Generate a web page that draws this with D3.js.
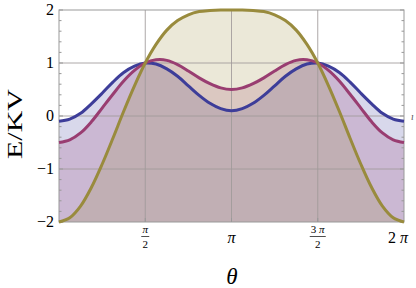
<!DOCTYPE html>
<html>
<head>
<meta charset="utf-8">
<script src="https://cdn.jsdelivr.net/npm/d3@7"></script>
<style>
  html, body { margin: 0; padding: 0; background: #fff; }
  svg { display: block; }
  text { font-family: "Liberation Serif", "DejaVu Serif", serif; }
</style>
</head>
<body>
<div id="chart"></div>
<script>
// theta samples, in units of pi (step pi/16)
const thetaPi = [0, 0.0625, 0.125, 0.1875, 0.25, 0.3125, 0.375, 0.4375, 0.5, 0.5625, 0.625, 0.6875, 0.75, 0.8125, 0.875, 0.9375, 1,
                 1.0625, 1.125, 1.1875, 1.25, 1.3125, 1.375, 1.4375, 1.5, 1.5625, 1.625, 1.6875, 1.75, 1.8125, 1.875, 1.9375, 2];

const blueE = [-0.10, -0.06, 0.05, 0.23, 0.43, 0.64, 0.82, 0.94, 1.00, 0.98, 0.89, 0.75, 0.57, 0.39, 0.24, 0.14, 0.10,
               0.14, 0.24, 0.39, 0.57, 0.75, 0.89, 0.98, 1.00, 0.94, 0.82, 0.64, 0.43, 0.23, 0.05, -0.06, -0.10];
const purpleE = [-0.50, -0.45, -0.32, -0.11, 0.15, 0.41, 0.66, 0.86, 1.00, 1.06, 1.05, 0.97, 0.85, 0.72, 0.61, 0.53, 0.50,
                 0.53, 0.61, 0.72, 0.85, 0.97, 1.05, 1.06, 1.00, 0.86, 0.66, 0.41, 0.15, -0.11, -0.32, -0.45, -0.50];
const goldE = [-2.00, -1.92, -1.70, -1.35, -0.91, -0.42, 0.09, 0.57, 1.00, 1.35, 1.62, 1.80, 1.91, 1.97, 1.99, 2.00, 2.00,
               2.00, 1.99, 1.97, 1.91, 1.80, 1.62, 1.35, 1.00, 0.57, 0.09, -0.42, -0.91, -1.35, -1.70, -1.92, -2.00];

const seriesColors = ["#3d3d99", "#993d71", "#998b3d"];
const yTicks = [-2, -1, 0, 1, 2];
const yMinor = [-1.8, -1.6, -1.4, -1.2, -0.8, -0.6, -0.4, -0.2, 0.2, 0.4, 0.6, 0.8, 1.2, 1.4, 1.6, 1.8];
const xTicks = [0.5, 1, 1.5, 2];   // in units of pi

const width = 416, height = 288;
const plotL = 59, plotR = 404, plotT = 10, plotB = 222;

const svg = d3.select("#chart").append("svg")
    .attr("width", width)
    .attr("height", height);

const x = d3.scaleLinear().domain([0, 2]).range([plotL, plotR]);
const y = d3.scaleLinear().domain([-2, 2]).range([plotB, plotT]);

const series = [blueE, purpleE, goldE];

// fills down to the bottom of the frame
const area = d3.area()
    .x((d, i) => x(thetaPi[i]))
    .y0(y(-2))
    .y1(d => y(d))
    .curve(d3.curveCatmullRom);

series.forEach((vals, k) => {
    svg.append("path")
        .datum(vals)
        .attr("d", area)
        .attr("fill", seriesColors[k])
        .attr("fill-opacity", 0.2);
});

// grid lines
const gridColor = "#a09a9a";
svg.append("g").selectAll("line")
    .data([-1, 0, 1])
    .join("line")
    .attr("x1", plotL).attr("x2", plotR)
    .attr("y1", d => y(d)).attr("y2", d => y(d))
    .attr("stroke", gridColor).attr("stroke-width", 1).attr("opacity", 0.85);
svg.append("g").selectAll("line")
    .data([0.5, 1, 1.5])
    .join("line")
    .attr("y1", plotT).attr("y2", plotB)
    .attr("x1", d => x(d)).attr("x2", d => x(d))
    .attr("stroke", gridColor).attr("stroke-width", 1).attr("opacity", 0.85);

// frame
svg.append("rect")
    .attr("x", plotL).attr("y", plotT)
    .attr("width", plotR - plotL).attr("height", plotB - plotT)
    .attr("fill", "none")
    .attr("stroke", "#999")
    .attr("stroke-width", 1);

// ticks on left and right frame
const tickG = svg.append("g").attr("stroke", "#999").attr("stroke-width", 1);
yTicks.forEach(v => {
    tickG.append("line").attr("x1", plotL).attr("x2", plotL + 4).attr("y1", y(v)).attr("y2", y(v));
    tickG.append("line").attr("x1", plotR).attr("x2", plotR - 4).attr("y1", y(v)).attr("y2", y(v));
});
yMinor.forEach(v => {
    tickG.append("line").attr("x1", plotL).attr("x2", plotL + 2.5).attr("y1", y(v)).attr("y2", y(v));
    tickG.append("line").attr("x1", plotR).attr("x2", plotR - 2.5).attr("y1", y(v)).attr("y2", y(v));
});
[0.5, 1, 1.5].forEach(v => {
    tickG.append("line").attr("x1", x(v)).attr("x2", x(v)).attr("y1", plotB).attr("y2", plotB - 4);
});

// curves
const line = d3.line()
    .x((d, i) => x(thetaPi[i]))
    .y(d => y(d))
    .curve(d3.curveCatmullRom);

series.forEach((vals, k) => {
    svg.append("path")
        .datum(vals)
        .attr("d", line)
        .attr("fill", "none")
        .attr("stroke", seriesColors[k])
        .attr("stroke-width", 3);
});

// y tick labels
svg.append("g").selectAll("text")
    .data(yTicks)
    .join("text")
    .attr("x", 54)
    .attr("y", d => y(d) + 5)
    .attr("text-anchor", "end")
    .attr("font-size", 16)
    .text(d => d < 0 ? "\u2212" + Math.abs(d) : d);

// x tick labels
xTicks.forEach(v => {
    const cx = x(v);
    if (v === 0.5 || v === 1.5) {
        const num = svg.append("text")
            .attr("x", cx).attr("y", 233)
            .attr("text-anchor", "middle")
            .attr("font-size", 11);
        if (v === 1.5) num.append("tspan").text("3 ");
        num.append("tspan").attr("font-style", "italic").text("π");
        svg.append("line")
            .attr("x1", cx - (v === 1.5 ? 8 : 4)).attr("x2", cx + (v === 1.5 ? 8 : 4))
            .attr("y1", 236.5).attr("y2", 236.5)
            .attr("stroke", "#222").attr("stroke-width", 0.8);
        svg.append("text")
            .attr("x", cx).attr("y", 248)
            .attr("text-anchor", "middle")
            .attr("font-size", 11)
            .text("2");
    } else {
        const t = svg.append("text")
            .attr("x", v === 2 ? cx - 6 : cx).attr("y", 243)
            .attr("text-anchor", "middle")
            .attr("font-size", 16);
        if (v === 2) t.append("tspan").text("2 ");
        t.append("tspan").attr("font-style", "italic").text("π");
    }
});

// axis titles
svg.append("text")
    .attr("x", 232).attr("y", 284)
    .attr("text-anchor", "middle")
    .attr("font-size", 23)
    .attr("font-style", "italic")
    .text("θ");

svg.append("text")
    .attr("transform", "translate(22,124) rotate(-90)")
    .attr("text-anchor", "middle")
    .attr("font-size", 22)
    .attr("textLength", 70)
    .attr("lengthAdjust", "spacingAndGlyphs")
    .text("E/KV");

// clipped label stub at the right edge
svg.append("text")
    .attr("x", 411).attr("y", 120)
    .attr("font-size", 10)
    .attr("font-style", "italic")
    .attr("fill", "#555")
    .text("ı");
</script>
</body>
</html>
